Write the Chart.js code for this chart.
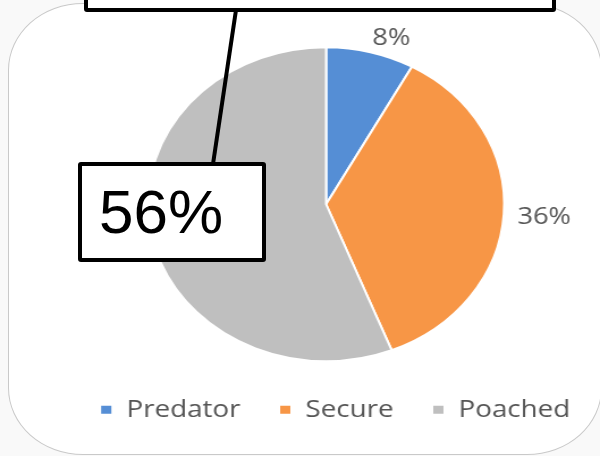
<!DOCTYPE html>
<html>
<head>
<meta charset="utf-8">
<script src="https://cdn.jsdelivr.net/npm/chart.js@4.4.1/dist/chart.umd.min.js"></script>
<style>
    body { margin: 0; width: 600px; height: 456px; overflow: hidden; background: #f9f9f9; position: relative; }
    #frame { position: absolute; left: 8px; top: 3px; width: 594px; height: 452px; border: 1px solid #c9c9c9;
             border-radius: 75px / 67px; background: #fff; box-sizing: border-box; }
    #stretch { position: absolute; left: 0; top: 0; width: 580px; height: 456px;
               transform: scaleX(1.1342); transform-origin: 0 0; }
    .callout { position: absolute; background: #fff; border: 4px solid #000; box-sizing: border-box; border-radius: 3px; }
    #topBox { left: 84px; top: -20px; width: 472px; height: 32px; }
    #valueBox { left: 78px; top: 162px; width: 188px; height: 100px; display: flex; align-items: center;
                padding-left: 17px; font-family: "Liberation Sans", Arial, sans-serif; font-size: 62px; line-height: 1; color: #000; }
    #leader { position: absolute; left: 0; top: 0; }
</style>
</head>
<body>
<div id="frame"></div>
<div id="stretch"><canvas id="pieChart"></canvas></div>
<svg id="leader" width="600" height="456"><line x1="236" y1="10" x2="213" y2="164" stroke="#000" stroke-width="4"/></svg>
<div class="callout" id="topBox"></div>
<div class="callout" id="valueBox">56%</div>
<script>
const categories = ['Predator', 'Secure', 'Poached'];
const shares = [8, 36, 56];
const sliceColors = ['#558ED5', '#F79646', '#BFBFBF'];

// percent labels just outside each slice
const outsideLabels = {
    id: 'outsideLabels',
    afterDatasetsDraw(chart) {
        const ctx = chart.ctx;
        const meta = chart.getDatasetMeta(0);
        ctx.save();
        ctx.font = '24px "Open Sans", sans-serif';
        ctx.fillStyle = '#575757';
        meta.data.forEach((arc, i) => {
            const p = arc.getProps(['x', 'y', 'startAngle', 'endAngle', 'outerRadius']);
            const mid = (p.startAngle + p.endAngle) / 2;
            const cos = Math.cos(mid), sin = Math.sin(mid);
            const r = p.outerRadius + (sin < -0.5 ? 7 : 12);
            ctx.textAlign = cos > 0.2 ? 'left' : (cos < -0.2 ? 'right' : 'center');
            ctx.textBaseline = sin < -0.5 ? 'alphabetic' : (sin > 0.5 ? 'top' : 'middle');
            ctx.fillText(shares[i] + '%', p.x + cos * r, p.y + sin * r + (sin > -0.5 && sin < 0.5 ? 2 : 0));
        });
        ctx.restore();
    }
};

// nudge the legend row a little to the right, like the original
const legendShift = {
    id: 'legendShift',
    afterLayout(chart) {
        chart.legend.left += 8;
        chart.legend.right += 8;
    }
};

new Chart(document.getElementById('pieChart'), {
    type: 'pie',
    data: {
        labels: categories,
        datasets: [{
            data: shares,
            backgroundColor: sliceColors,
            borderColor: '#ffffff',
            borderWidth: 2
        }]
    },
    options: {
        responsive: true,
        maintainAspectRatio: false,
        animation: false,
        radius: 157,
        layout: { padding: { left: 0, right: 5, top: 45, bottom: 24 } },
        plugins: {
            legend: {
                position: 'bottom',
                labels: {
                    boxWidth: 11,
                    boxHeight: 10,
                    padding: 34,
                    color: '#555555',
                    font: { family: '"Open Sans", sans-serif', size: 24.5 }
                }
            },
            tooltip: { enabled: false }
        }
    },
    plugins: [outsideLabels, legendShift]
});
</script>
</body>
</html>
